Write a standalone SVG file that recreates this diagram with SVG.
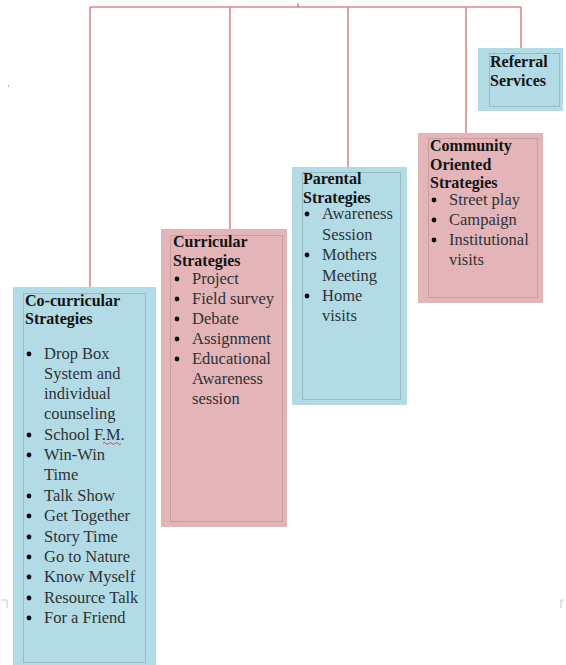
<svg xmlns="http://www.w3.org/2000/svg" width="566" height="665" viewBox="0 0 566 665">
  <style>
    .blue { fill: #b3dbe6; }
    .pink { fill: #e3b5b8; }
    .innerB { fill: none; stroke: #9fb9c0; stroke-width: 1; }
    .innerP { fill: none; stroke: #c99ea2; stroke-width: 1; }
    .conn { fill: none; stroke: #d98a8e; stroke-width: 1.6; }
    .head { font-family: "Liberation Serif", "Times New Roman", serif; font-weight: bold; font-size: 16px; fill: #121212; }
    .item { font-family: "Liberation Serif", "Times New Roman", serif; font-size: 16.5px; fill: #2e3235; }
    .bullet { fill: #0d0d0d; }
    .mark { fill: none; stroke: #c8c8c8; stroke-width: 1; }
  </style>

  <rect width="566" height="665" fill="#ffffff"/>

  <!-- page artifacts -->
  <g id="artifacts">
    <circle cx="8.5" cy="86" r="0.8" fill="#9a9a9a"/>
    <path class="mark" d="M2 600 H7 V608"/>
    <path class="mark" d="M564 600 H561 V608"/>
  </g>

  <!-- connectors -->
  <g id="connectors">
    <path class="conn" d="M90 7 H521"/>
    <path class="conn" d="M90 7 V287"/>
    <path class="conn" d="M230 7 V229"/>
    <path class="conn" d="M348 7 V167"/>
    <path class="conn" d="M466 7 V133"/>
    <path class="conn" d="M521 7 V48"/>
    <path d="M298 3.5 V7" stroke="#8a6a6a" stroke-width="1.2"/>
  </g>

  <!-- Referral Services -->
  <g id="referral">
    <rect class="blue" x="478" y="48" width="85" height="63"/>
    <rect class="innerB" x="489.5" y="53.5" width="70" height="53"/>
    <text class="head" x="490" y="67">Referral</text>
    <text class="head" x="490" y="85.5">Services</text>
  </g>

  <!-- Community Oriented Strategies -->
  <g id="community">
    <rect class="pink" x="418" y="133" width="125" height="170"/>
    <rect class="innerP" x="428.5" y="138.5" width="109" height="159"/>
    <text class="head" x="430" y="151">Community</text>
    <text class="head" x="430" y="169.5">Oriented</text>
    <text class="head" x="430" y="188">Strategies</text>
    <circle class="bullet" cx="434" cy="200" r="2.4"/>
    <circle class="bullet" cx="434" cy="220" r="2.4"/>
    <circle class="bullet" cx="434" cy="240" r="2.4"/>
    <text class="item" x="449" y="205">Street play</text>
    <text class="item" x="449" y="225">Campaign</text>
    <text class="item" x="449" y="245">Institutional</text>
    <text class="item" x="449" y="265">visits</text>
  </g>

  <!-- Parental Strategies -->
  <g id="parental">
    <rect class="blue" x="292" y="167" width="115" height="238"/>
    <rect class="innerB" x="302.5" y="172.5" width="98" height="227"/>
    <text class="head" x="303" y="184">Parental</text>
    <text class="head" x="303" y="202.5">Strategies</text>
    <circle class="bullet" cx="307" cy="214" r="2.4"/>
    <circle class="bullet" cx="307" cy="255" r="2.4"/>
    <circle class="bullet" cx="307" cy="296" r="2.4"/>
    <text class="item" x="322" y="219">Awareness</text>
    <text class="item" x="322" y="240">Session</text>
    <text class="item" x="322" y="260">Mothers</text>
    <text class="item" x="322" y="281">Meeting</text>
    <text class="item" x="322" y="301">Home</text>
    <text class="item" x="322" y="321">visits</text>
  </g>

  <!-- Curricular Strategies -->
  <g id="curricular">
    <rect class="pink" x="161" y="229" width="126" height="298"/>
    <rect class="innerP" x="170.5" y="235.5" width="112" height="286"/>
    <text class="head" x="173" y="247">Curricular</text>
    <text class="head" x="173" y="265.5">Strategies</text>
    <circle class="bullet" cx="177" cy="279" r="2.4"/>
    <circle class="bullet" cx="177" cy="299" r="2.4"/>
    <circle class="bullet" cx="177" cy="319" r="2.4"/>
    <circle class="bullet" cx="177" cy="339" r="2.4"/>
    <circle class="bullet" cx="177" cy="359" r="2.4"/>
    <text class="item" x="192" y="284">Project</text>
    <text class="item" x="192" y="304">Field survey</text>
    <text class="item" x="192" y="324">Debate</text>
    <text class="item" x="192" y="344">Assignment</text>
    <text class="item" x="192" y="364">Educational</text>
    <text class="item" x="192" y="384">Awareness</text>
    <text class="item" x="192" y="404">session</text>
  </g>

  <!-- Co-curricular Strategies -->
  <g id="cocurricular">
    <rect class="blue" x="13" y="287" width="143" height="380"/>
    <rect class="innerB" x="23.5" y="293.5" width="122" height="369"/>
    <text class="head" x="25" y="305.5">Co-curricular</text>
    <text class="head" x="25" y="324">Strategies</text>
    <circle class="bullet" cx="29" cy="354" r="2.4"/>
    <circle class="bullet" cx="29" cy="435" r="2.4"/>
    <circle class="bullet" cx="29" cy="455" r="2.4"/>
    <circle class="bullet" cx="29" cy="496" r="2.4"/>
    <circle class="bullet" cx="29" cy="516" r="2.4"/>
    <circle class="bullet" cx="29" cy="537" r="2.4"/>
    <circle class="bullet" cx="29" cy="557" r="2.4"/>
    <circle class="bullet" cx="29" cy="577" r="2.4"/>
    <circle class="bullet" cx="29" cy="598" r="2.4"/>
    <circle class="bullet" cx="29" cy="618" r="2.4"/>
    <text class="item" x="44" y="359">Drop Box</text>
    <text class="item" x="44" y="379">System and</text>
    <text class="item" x="44" y="399">individual</text>
    <text class="item" x="44" y="419">counseling</text>
    <text class="item" x="44" y="440">School F.M.</text>
    <text class="item" x="44" y="460">Win-Win</text>
    <text class="item" x="44" y="480">Time</text>
    <text class="item" x="44" y="501">Talk Show</text>
    <text class="item" x="44" y="521">Get Together</text>
    <text class="item" x="44" y="542">Story Time</text>
    <text class="item" x="44" y="562">Go to Nature</text>
    <text class="item" x="44" y="582">Know Myself</text>
    <text class="item" x="44" y="603">Resource Talk</text>
    <text class="item" x="44" y="623">For a Friend</text>
    <path d="M103 443.5 q1.5 -2 3 0 t3 0 t3 0 t3 0 t3 0 t3 0" fill="none" stroke="#d23a3a" stroke-width="0.9"/>
  </g>
</svg>
